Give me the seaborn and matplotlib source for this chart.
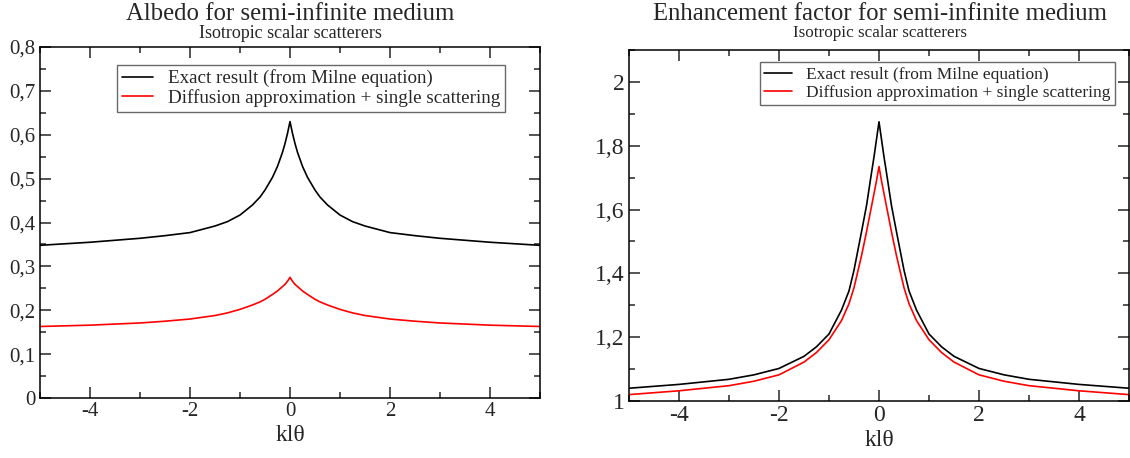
import numpy as np
import pandas as pd
import matplotlib
matplotlib.use("Agg")
import matplotlib.pyplot as plt
from matplotlib.ticker import MultipleLocator, FuncFormatter
import seaborn as sns

sns.set_theme(style="ticks")
plt.rcParams['font.family'] = ['Liberation Serif', 'DejaVu Serif']

# k l theta sample points
kl_theta = [-5, -4, -3, -2.5, -2, -1.5, -1.25, -1, -0.75, -0.6, -0.5, -0.35, -0.25, -0.15, -0.1, -0.05, 0,
            0.05, 0.1, 0.15, 0.25, 0.35, 0.5, 0.6, 0.75, 1, 1.25, 1.5, 2, 2.5, 3, 4, 5]

# Albedo (left panel)
albedo_exact = [0.348, 0.355, 0.364, 0.370, 0.377, 0.392, 0.402, 0.417, 0.440, 0.458, 0.474, 0.503, 0.528, 0.560, 0.580, 0.603, 0.630,
                0.603, 0.580, 0.560, 0.528, 0.503, 0.474, 0.458, 0.440, 0.417, 0.402, 0.392, 0.377, 0.370, 0.364, 0.355, 0.348]
albedo_diff = [0.163, 0.166, 0.171, 0.175, 0.180, 0.188, 0.194, 0.202, 0.212, 0.219, 0.225, 0.236, 0.244, 0.254, 0.259, 0.266, 0.275,
               0.266, 0.259, 0.254, 0.244, 0.236, 0.225, 0.219, 0.212, 0.202, 0.194, 0.188, 0.180, 0.175, 0.171, 0.166, 0.163]

# Enhancement factor (right panel)
enh_exact = [1.040, 1.052, 1.068, 1.082, 1.102, 1.140, 1.170, 1.210, 1.285, 1.345, 1.410, 1.530, 1.612, 1.715, 1.765, 1.820, 1.875,
             1.820, 1.765, 1.715, 1.612, 1.530, 1.410, 1.345, 1.285, 1.210, 1.170, 1.140, 1.102, 1.082, 1.068, 1.052, 1.040]
enh_diff = [1.020, 1.032, 1.048, 1.062, 1.082, 1.122, 1.152, 1.192, 1.252, 1.305, 1.355, 1.455, 1.530, 1.610, 1.650, 1.690, 1.735,
            1.690, 1.650, 1.610, 1.530, 1.455, 1.355, 1.305, 1.252, 1.192, 1.152, 1.122, 1.082, 1.062, 1.048, 1.032, 1.020]

label_exact = "Exact result (from Milne equation)"
label_diff = "Diffusion approximation + single scattering"


def comma_fmt(v, pos):
    return f"{v:g}".replace('.', ',')


def style_axis(ax, ymaj, ymin, lsize):
    ax.xaxis.set_major_locator(MultipleLocator(2))
    ax.xaxis.set_minor_locator(MultipleLocator(1))
    ax.yaxis.set_major_locator(MultipleLocator(ymaj))
    ax.yaxis.set_minor_locator(MultipleLocator(ymin))
    ax.xaxis.set_major_formatter(FuncFormatter(comma_fmt))
    ax.yaxis.set_major_formatter(FuncFormatter(comma_fmt))
    ax.tick_params(which='both', direction='in', top=True, right=True,
                   width=1.1, labelsize=lsize, pad=3)
    ax.tick_params(which='major', length=8)
    ax.tick_params(which='minor', length=4.5)
    for s in ax.spines.values():
        s.set_linewidth(1.1)
        s.set_color('black')
    ax.set_xlim(-5, 5)
    ax.set_xlabel("klθ", fontsize=17, labelpad=3)
    ax.set_ylabel("")


fig = plt.figure(figsize=(11.3, 4.58), dpi=100)
ax1 = fig.add_axes([40 / 1130, 1 - 398 / 458, 500 / 1130, 351 / 458])
ax2 = fig.add_axes([629 / 1130, 1 - 401 / 458, 500 / 1130, 351 / 458])

df_alb = pd.DataFrame({"x": kl_theta, "exact": albedo_exact, "diff": albedo_diff})
df_enh = pd.DataFrame({"x": kl_theta, "exact": enh_exact, "diff": enh_diff})

for ax, df in [(ax1, df_alb), (ax2, df_enh)]:
    sns.lineplot(data=df, x="x", y="exact", ax=ax, color="black", lw=1.2, label=label_exact)
    sns.lineplot(data=df, x="x", y="diff", ax=ax, color="red", lw=1.2, label=label_diff)

ax1.set_ylim(0, 0.8)
style_axis(ax1, 0.1, 0.05, 15)
ax2.set_ylim(1, 2.1)
style_axis(ax2, 0.2, 0.1, 17)

for ax, anchor, fs in [(ax1, (0.93, 0.95), 13.7), (ax2, (0.972, 0.965), 12.5)]:
    leg = ax.legend(loc='upper right', bbox_to_anchor=anchor, fontsize=fs,
                    frameon=True, fancybox=False, borderpad=0.25, handlelength=1.6,
                    handletextpad=0.8, labelspacing=0.1, borderaxespad=0)
    leg.get_frame().set_edgecolor('#444444')
    leg.get_frame().set_linewidth(1.0)

fig.text(290 / 1130, 1 - 14 / 458, "Albedo for semi-infinite medium",
         ha='center', va='center', fontsize=17.8)
fig.text(290 / 1130, 1 - 33 / 458, "Isotropic scalar scatterers",
         ha='center', va='center', fontsize=13)
fig.text(880 / 1130, 1 - 14 / 458, "Enhancement factor for semi-infinite medium",
         ha='center', va='center', fontsize=17.8)
fig.text(880 / 1130, 1 - 33 / 458, "Isotropic scalar scatterers",
         ha='center', va='center', fontsize=12.3)

fig.savefig("out.png", dpi=100, facecolor='white')
